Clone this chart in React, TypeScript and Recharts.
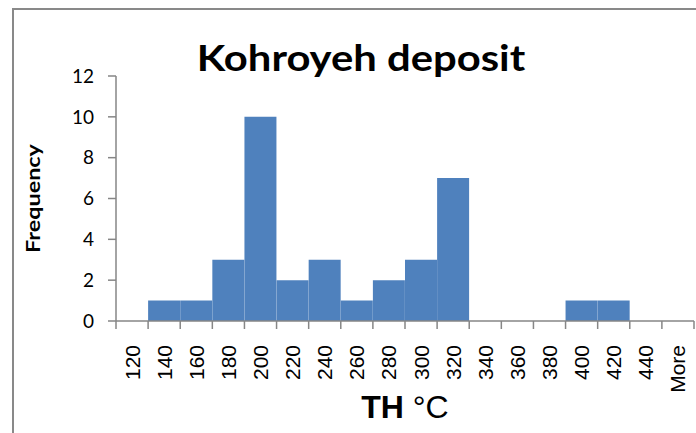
import { Bar, BarChart, Label, XAxis, YAxis } from "recharts";

const bins = ["120", "140", "160", "180", "200", "220", "240", "260", "280", "300", "320", "340", "360", "380", "400", "420", "440", "More"];
const frequency = [0, 1, 1, 3, 10, 2, 3, 1, 2, 3, 7, 0, 0, 0, 1, 1, 0, 0];
const yTicks = [0, 2, 4, 6, 8, 10, 12];

const data = bins.map((bin, i) => ({ bin, frequency: frequency[i] }));

const WIDTH = 696;
const HEIGHT = 433;
const Y_AXIS_W = 116;
const RIGHT = 2;
const BAND = (WIDTH - Y_AXIS_W - RIGHT) / bins.length;
const AXIS_GRAY = "#868686";

function BinTick(props: any) {
    const { x, y, payload, index } = props;
    const half = BAND / 2;
    return (
        <g>
            <line x1={x - half} x2={x - half} y1={y} y2={y + 8} stroke={AXIS_GRAY} strokeWidth={1.5} />
            {index === bins.length - 1 && (
                <line x1={x + half} x2={x + half} y1={y} y2={y + 8} stroke={AXIS_GRAY} strokeWidth={1.5} />
            )}
            <text
                transform={`translate(${x},${y + 24}) rotate(-90)`}
                textAnchor="end"
                dominantBaseline="central"
                fontFamily="'Liberation Sans', Arial, sans-serif"
                fontSize={21}
                fill="#000"
            >
                {payload.value}
            </text>
        </g>
    );
}

export default function App() {
    return (
        <div style={{ position: "absolute", left: 0, top: 0, width: WIDTH, height: HEIGHT, overflow: "hidden", background: "#fff" }}>
            <div
                style={{
                    position: "absolute",
                    left: 12,
                    top: 8,
                    width: 720,
                    height: 460,
                    border: "2px solid #898989",
                    boxSizing: "border-box"
                }}
            />
            <div
                style={{
                    position: "absolute",
                    left: 12,
                    width: 698,
                    top: 35,
                    textAlign: "center",
                    fontFamily: "Lato, sans-serif",
                    fontWeight: 700,
                    fontSize: 36,
                    lineHeight: "44px",
                    color: "#000",
                    transform: "scaleX(1.16)"
                }}
            >
                Kohroyeh deposit
            </div>
            <div style={{ position: "absolute", left: 0, top: 0 }}>
                <BarChart
                    width={WIDTH}
                    height={HEIGHT}
                    data={data}
                    margin={{ top: 76, right: RIGHT, left: 0, bottom: 0 }}
                    barCategoryGap={0}
                    barGap={0}
                >
                    <XAxis
                        dataKey="bin"
                        interval={0}
                        height={112}
                        tickLine={false}
                        tickSize={0}
                        tickMargin={0}
                        stroke={AXIS_GRAY}
                        strokeWidth={1.5}
                        tick={<BinTick />}
                    >
                        <Label
                            content={({ viewBox }: any) => (
                                <text
                                    x={viewBox.x + viewBox.width / 2}
                                    y={418}
                                    textAnchor="middle"
                                    fontFamily="'Liberation Sans', Arial, sans-serif"
                                    fontSize={32}
                                    fill="#000"
                                >
                                    <tspan fontWeight={700}>TH </tspan>
                                    <tspan>°C</tspan>
                                </text>
                            )}
                        />
                    </XAxis>
                    <YAxis
                        width={Y_AXIS_W}
                        domain={[0, 12]}
                        ticks={yTicks}
                        interval={0}
                        tickSize={8}
                        tickMargin={14}
                        stroke={AXIS_GRAY}
                        strokeWidth={1.5}
                        tick={{ fill: "#000", fontFamily: "Lato, sans-serif", fontSize: 19 }}
                    >
                        <Label
                            content={({ viewBox }: any) => (
                                <text
                                    transform={`translate(${viewBox.x + 33},${viewBox.y + viewBox.height / 2}) rotate(-90) scale(1.3,1)`}
                                    textAnchor="middle"
                                    dominantBaseline="central"
                                    fontFamily="Lato, sans-serif"
                                    fontWeight={700}
                                    fontSize={18}
                                    fill="#000"
                                >
                                    Frequency
                                </text>
                            )}
                        />
                    </YAxis>
                    <Bar dataKey="frequency" fill="#4F81BD" isAnimationActive={false} />
                </BarChart>
            </div>
        </div>
    );
}
